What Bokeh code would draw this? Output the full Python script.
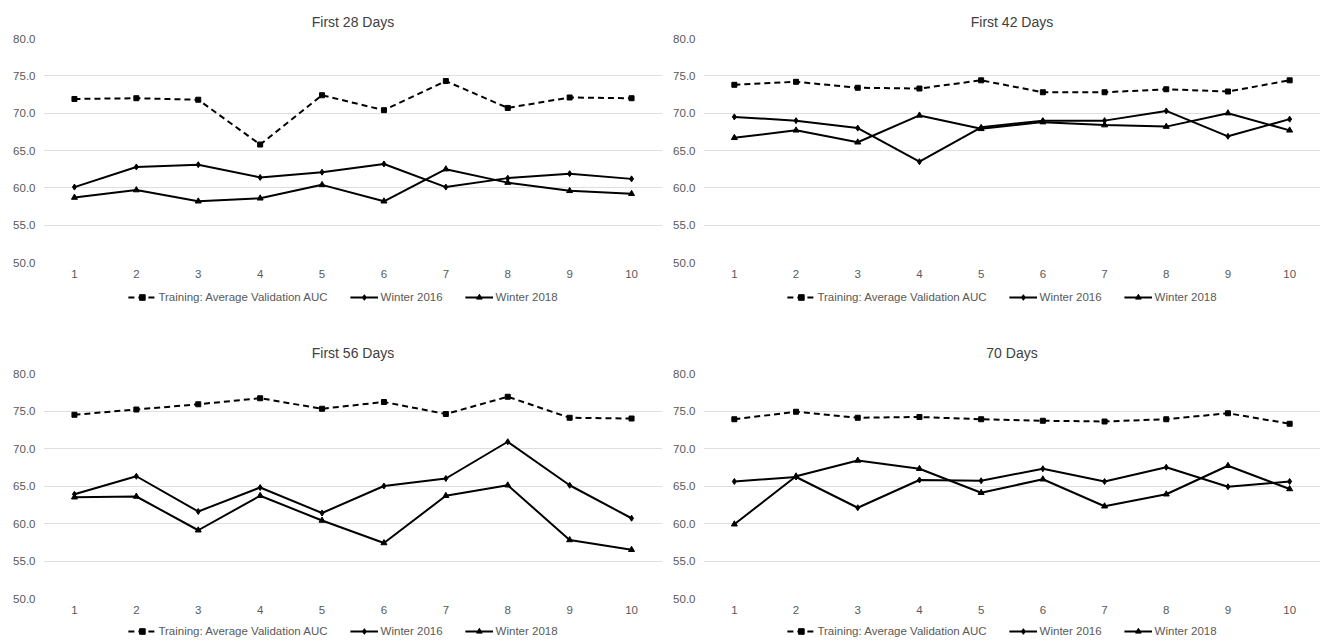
from bokeh.plotting import figure
from bokeh.layouts import column, row
from bokeh.models import Legend, LegendItem, FixedTicker, Range1d, PrintfTickFormatter
from bokeh.embed import file_html
from bokeh.resources import INLINE

runs = [1, 2, 3, 4, 5, 6, 7, 8, 9, 10]
y_ticks = [50, 55, 60, 65, 70, 75, 80]
titles = ["First 28 Days", "First 42 Days", "First 56 Days", "70 Days"]
series_names = ["Training: Average Validation AUC", "Winter 2016", "Winter 2018"]

days28_train = [71.9, 72.0, 71.8, 65.8, 72.4, 70.4, 74.3, 70.7, 72.1, 72.0]
days28_w2016 = [60.1, 62.8, 63.1, 61.4, 62.1, 63.2, 60.1, 61.3, 61.9, 61.2]
days28_w2018 = [58.7, 59.7, 58.2, 58.6, 60.4, 58.2, 62.5, 60.7, 59.6, 59.2]

days42_train = [73.8, 74.2, 73.4, 73.3, 74.4, 72.8, 72.8, 73.2, 72.9, 74.4]
days42_w2016 = [69.5, 69.0, 68.0, 63.5, 68.1, 69.0, 69.0, 70.3, 66.9, 69.2]
days42_w2018 = [66.7, 67.7, 66.1, 69.7, 67.9, 68.8, 68.4, 68.2, 70.0, 67.7]

days56_train = [74.5, 75.2, 75.9, 76.7, 75.3, 76.2, 74.6, 76.9, 74.1, 74.0]
days56_w2016 = [63.9, 66.3, 61.6, 64.8, 61.4, 65.0, 66.0, 70.9, 65.1, 60.7]
days56_w2018 = [63.5, 63.6, 59.1, 63.7, 60.4, 57.4, 63.7, 65.1, 57.8, 56.5]

days70_train = [73.9, 74.9, 74.1, 74.2, 73.9, 73.7, 73.6, 73.9, 74.7, 73.3]
days70_w2016 = [65.6, 66.2, 62.1, 65.8, 65.7, 67.3, 65.6, 67.5, 64.9, 65.6]
days70_w2018 = [59.9, 66.3, 68.4, 67.3, 64.1, 65.9, 62.3, 63.9, 67.7, 64.6]

FONT = "Liberation Sans"
TXT = "#595959"

STYLES = [
    dict(dash="6 4", marker="square", size=5),
    dict(dash="solid", marker="diamond", size=6),
    dict(dash="solid", marker="triangle", size=6),
]


def draw_series(p, x, y, st):
    r = p.line(x, y, line_color="black", line_width=2, line_dash=st["dash"])
    m = p.scatter(x, y, marker=st["marker"], size=st["size"], color="black")
    return r, m


def make_panel(title, series, width, height, bl, bt, bb, standoff):
    p = figure(width=width, height=height, output_backend="svg", toolbar_location=None,
               x_range=Range1d(0.5, 10.5), y_range=Range1d(50, 80),
               min_border_left=bl, min_border_right=0, min_border_top=bt, min_border_bottom=bb,
               title=title)
    p.title.align = "center"
    p.title.text_font = FONT
    p.title.text_font_size = "14px"
    p.title.text_font_style = "normal"
    p.title.text_color = "#404040"
    p.title.standoff = standoff
    p.outline_line_color = None
    p.background_fill_color = "white"
    p.border_fill_color = "white"

    p.xgrid.grid_line_color = None
    p.ygrid.grid_line_color = "#dedede"
    p.ygrid.grid_line_width = 1
    p.yaxis.ticker = FixedTicker(ticks=y_ticks)
    p.yaxis.formatter = PrintfTickFormatter(format="%.1f")
    p.xaxis.ticker = FixedTicker(ticks=runs)
    for ax in (p.xaxis[0], p.yaxis[0]):
        ax.axis_line_color = None
        ax.major_tick_line_color = None
        ax.minor_tick_line_color = None
        ax.major_tick_out = 0
        ax.major_tick_in = 0
        ax.major_label_text_font = FONT
        ax.major_label_text_font_size = "11.5px"
        ax.major_label_text_color = TXT
        ax.major_label_standoff = 8
    p.xaxis.major_label_standoff = 7

    for ys, st in zip(series, STYLES):
        draw_series(p, runs, ys, st)
    return p


def make_legend_strip(series, width, height, bl, br):
    # legend-only strip: the series sit outside this strip's visible y-range,
    # only their legend entries are shown
    s = figure(width=width, height=height, output_backend="svg", toolbar_location=None,
               x_range=Range1d(0.5, 10.5), y_range=Range1d(0, 1),
               x_axis_type=None, y_axis_type=None,
               min_border_left=bl, min_border_right=br, min_border_top=0, min_border_bottom=0)
    s.outline_line_color = None
    s.background_fill_color = "white"
    s.border_fill_color = "white"
    items = []
    for name, ys, st in zip(series_names, series, STYLES):
        r, m = draw_series(s, runs, ys, st)
        items.append(LegendItem(label=name, renderers=[r, m]))
    legend = Legend(items=items, orientation="horizontal", location="center")
    legend.label_text_font = FONT
    legend.label_text_font_size = "11.5px"
    legend.label_text_color = TXT
    legend.border_line_color = None
    legend.background_fill_alpha = 0
    legend.padding = 0
    legend.margin = 0
    legend.spacing = 22
    legend.glyph_width = 28
    legend.glyph_height = 14
    legend.label_height = 14
    legend.label_standoff = 3
    s.add_layout(legend, "center")
    return s


s28 = (days28_train, days28_w2016, days28_w2018)
s42 = (days42_train, days42_w2016, days42_w2018)
s56 = (days56_train, days56_w2016, days56_w2018)
s70 = (days70_train, days70_w2016, days70_w2018)

p1 = make_panel(titles[0], s28, 662, 284, 43, 38, 22, 18)
p2 = make_panel(titles[1], s42, 658, 284, 41, 38, 22, 18)
l1 = make_legend_strip(s28, 662, 26, 43, 20)
l2 = make_legend_strip(s42, 658, 26, 41, 20)
p3 = make_panel(titles[2], s56, 662, 310, 43, 63, 22, 25)
p4 = make_panel(titles[3], s70, 658, 310, 41, 63, 22, 25)
l3 = make_legend_strip(s56, 662, 22, 43, 20)
l4 = make_legend_strip(s70, 658, 22, 41, 20)

layout = column(row(p1, p2), row(l1, l2), row(p3, p4), row(l3, l4))
open("out.html", "w").write(file_html(layout, INLINE))
